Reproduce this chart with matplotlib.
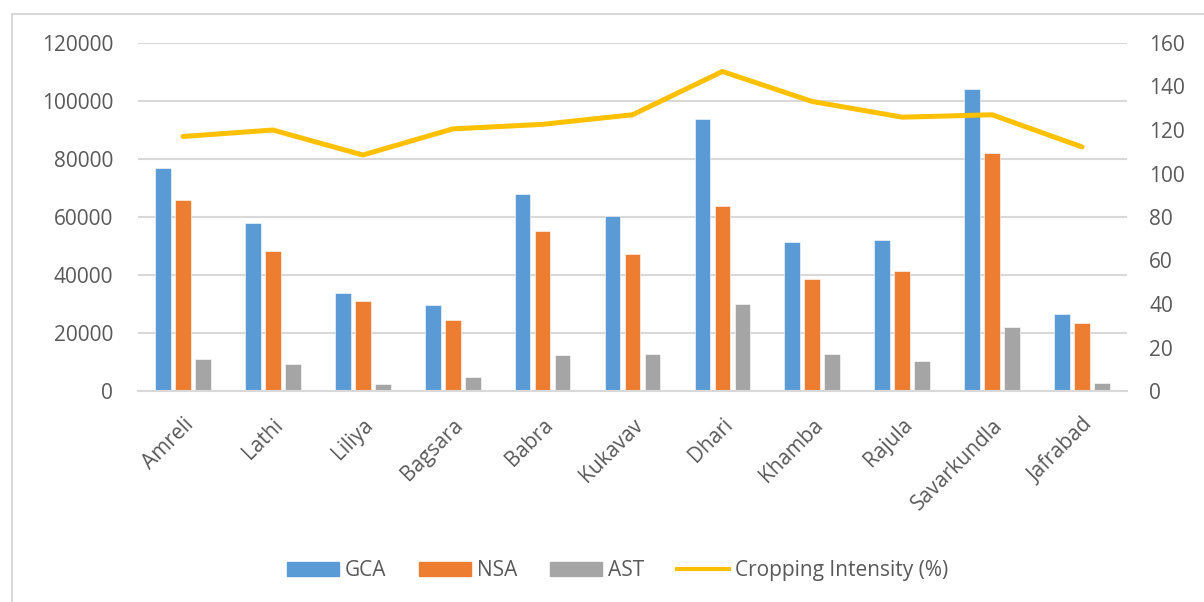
import numpy as np
import matplotlib.pyplot as plt
from matplotlib.patches import Rectangle
from matplotlib.lines import Line2D

plt.rcParams['font.family'] = ['Open Sans', 'DejaVu Sans']

talukas = ["Amreli", "Lathi", "Liliya", "Bagsara", "Babra", "Kukavav",
           "Dhari", "Khamba", "Rajula", "Savarkundla", "Jafrabad"]
gca = [76800, 57800, 33900, 29700, 67800, 60400, 93800, 51500, 52000, 104100, 26400]
nsa = [65700, 48200, 31200, 24600, 55300, 47400, 63700, 38700, 41300, 82000, 23500]
ast = [11100, 9400, 2400, 4900, 12300, 12800, 29900, 12600, 10500, 22000, 2700]
intensity = [117.0, 120.0, 108.5, 120.5, 122.6, 127.0, 146.9, 133.1, 125.9, 127.0, 112.2]

txt = "#595959"
grid = "#D9D9D9"

fig = plt.figure(figsize=(12.04, 6.02), dpi=100)
ax = fig.add_axes([138 / 1204, 1 - 391 / 602, 989 / 1204, 348 / 602])
ax2 = ax.twinx()

x = np.arange(len(talukas))
w = 0.175
ax.bar(x - 0.222, gca, w, color="#5B9BD5", edgecolor="white", linewidth=0.4, label="GCA", zorder=2)
ax.bar(x, nsa, w, color="#ED7D31", edgecolor="white", linewidth=0.4, label="NSA", zorder=2)
ax.bar(x + 0.222, ast, w, color="#A5A5A5", edgecolor="white", linewidth=0.4, label="AST", zorder=2)
ax2.plot(x, intensity, color="#FFC000", linewidth=3.6, solid_capstyle="round",
         label="Cropping Intensity (%)")

ax.set_xlim(-0.5, len(talukas) - 0.5)
ax.set_ylim(0, 120000)
ax.set_yticks(range(0, 120001, 20000))
ax2.set_ylim(0, 160)
ax2.set_yticks(range(0, 161, 20))
ax.grid(axis="y", color=grid, linewidth=1.5, zorder=0)
ax.set_axisbelow(True)

for a in (ax, ax2):
    for s in a.spines.values():
        s.set_visible(False)
    a.tick_params(length=0, labelsize=15, colors=txt)
ax.spines["bottom"].set_visible(True)
ax.spines["bottom"].set_color(grid)
ax.spines["bottom"].set_linewidth(1.5)
ax.tick_params(axis="y", pad=18)
ax2.tick_params(axis="y", pad=16)

ax.set_xticks(x)
ax.set_xticklabels(talukas, rotation=45, ha="right", rotation_mode="anchor")
ax.tick_params(axis="x", pad=17)

handles = [
    Rectangle((0, 0), 1, 1, color="#5B9BD5"),
    Rectangle((0, 0), 1, 1, color="#ED7D31"),
    Rectangle((0, 0), 1, 1, color="#A5A5A5"),
    Line2D([], [], color="#FFC000", linewidth=3.0),
]
fig.legend(handles, ["GCA", "NSA", "AST", "Cropping Intensity (%)"],
           loc="center", bbox_to_anchor=(0.513, 0.0515), ncol=4, frameon=False,
           fontsize=15, labelcolor=txt, handlelength=2.5, handleheight=0.67,
           columnspacing=1.55, handletextpad=0.3)

# light frame around the chart area
fig.patches.append(Rectangle((12 / 1204, -0.1), 1.2, 1 - 14 / 602 + 0.1,
                             transform=fig.transFigure, fill=False,
                             edgecolor="#D9D9D9", linewidth=1.5))

fig.savefig("out.png", dpi=100)
